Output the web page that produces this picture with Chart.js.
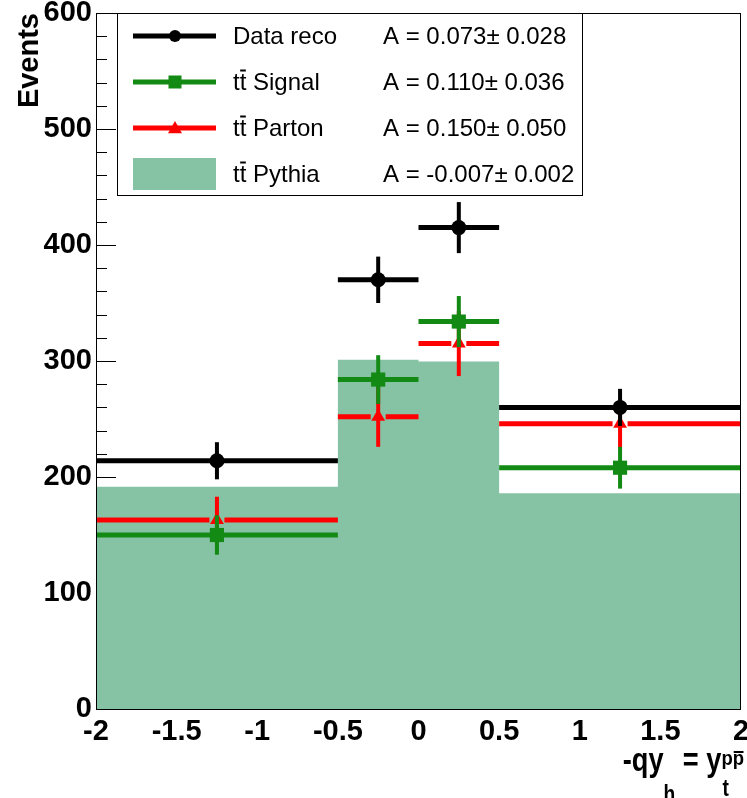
<!DOCTYPE html>
<html>
<head>
<meta charset="utf-8">
<script src="https://cdn.jsdelivr.net/npm/chart.js@4.4.1/dist/chart.umd.min.js"></script>
<style>
html,body{margin:0;padding:0;background:#fff;}
canvas{display:block;}
</style>
</head>
<body>
<canvas id="c" width="747" height="798"></canvas>
<script>
// ---- data ----
const binEdges   = [-2, -0.5, 0, 0.5, 2];
const binCenters = [-1.25, -0.25, 0.25, 1.25];
const dataReco    = [214, 370, 415, 260];
const dataRecoErr = [16, 20, 22, 16];
const signal      = [150, 284, 334, 208];
const signalErr   = [17, 21, 22, 18];
const parton      = [163, 252, 315, 246];
const partonErr   = [20, 26, 28, 21];
const pythia      = [191.5, 301, 299.5, 186];
const legendNames = ["Data reco", "Signal", "Parton", "Pythia"];
const legendTT    = [false, true, true, true];
const asymValues  = ["A = 0.073\u00b1 0.028", "A = 0.110\u00b1 0.036", "A = 0.150\u00b1 0.050", "A = -0.007\u00b1 0.002"];
const xTitle = {main: "-qy", sub1: "h", mid: " = y", sub2: "t", sup: "pp"};
const yTitle = "Events";

const COL_BLACK = '#000000', COL_GREEN = '#138a13', COL_RED = '#ff0000', COL_FILL = '#86c2a4';
const FONT = '"Liberation Sans", Arial, sans-serif';

function pts(vals){ return binCenters.map((c,i)=>({x:c, y:vals[i]})); }
const pythiaPts = [];
pythia.forEach((v,i)=>{ pythiaPts.push({x:binEdges[i], y:v}); pythiaPts.push({x:binEdges[i+1], y:v}); });

const errPlugin = {
  id: 'errbars',
  beforeDatasetDraw(chart, args) {
    const ds = chart.data.datasets[args.index];
    if (!ds.errors) return;
    const ctx = chart.ctx, x = chart.scales.x, y = chart.scales.y;
    ctx.save();
    ctx.strokeStyle = ds.borderColor;
    ctx.lineCap = 'butt';
    ds.data.forEach((p, i) => {
      const xl = x.getPixelForValue(binEdges[i]), xr = x.getPixelForValue(binEdges[i+1]);
      const xc = x.getPixelForValue(p.x), yc = y.getPixelForValue(p.y);
      const yt = y.getPixelForValue(p.y + ds.errors[i]), yb = y.getPixelForValue(p.y - ds.errors[i]);
      ctx.lineWidth = 4;
      ctx.beginPath(); ctx.moveTo(xc, yt); ctx.lineTo(xc, yb); ctx.stroke();
      ctx.lineWidth = 5;
      ctx.beginPath();
      if (ds.gap) {
        ctx.moveTo(xl, yc); ctx.lineTo(xc - ds.gap, yc);
        ctx.moveTo(xc + ds.gap, yc); ctx.lineTo(xr, yc);
      } else {
        ctx.moveTo(xl, yc); ctx.lineTo(xr, yc);
      }
      ctx.stroke();
    });
    ctx.restore();
  }
};

function drawTT(ctx, txt, x, y, tt) {
  if (!tt) { ctx.fillText(txt, x, y); return; }
  const wt = ctx.measureText('t').width, wtt = ctx.measureText('tt').width;
  ctx.fillText('tt', x, y);
  ctx.save();
  ctx.lineWidth = 2; ctx.strokeStyle = '#000';
  ctx.beginPath(); ctx.moveTo(x + wt + 0.5, y - 12.5); ctx.lineTo(x + wtt - 0.5, y - 12.5); ctx.stroke();
  ctx.restore();
  ctx.fillText(' ' + txt, x + wtt, y);
}

function marker(ctx, style, x, y, r, color) {
  ctx.fillStyle = color;
  ctx.beginPath();
  if (style === 'circle') { ctx.arc(x, y, r, 0, Math.PI*2); }
  else if (style === 'rect') { ctx.rect(x - r, y - r, 2*r, 2*r); }
  else { ctx.moveTo(x, y - r); ctx.lineTo(x + r, y + r*0.75); ctx.lineTo(x - r, y + r*0.75); ctx.closePath(); }
  ctx.fill();
}

// draw text with horizontal compression; returns advance width
function condText(ctx, txt, x, y, size, sx) {
  ctx.save();
  ctx.font = 'bold ' + size + 'px ' + FONT;
  ctx.translate(x, y); ctx.scale(sx, 1);
  ctx.fillText(txt, 0, 0);
  const w = ctx.measureText(txt).width * sx;
  ctx.restore();
  return w;
}
function condWidth(ctx, txt, size, sx) {
  ctx.save(); ctx.font = 'bold ' + size + 'px ' + FONT;
  const w = ctx.measureText(txt).width * sx; ctx.restore(); return w;
}

const decoPlugin = {
  id: 'deco',
  beforeDatasetsDraw(chart) {
    const ctx = chart.ctx, a = chart.chartArea, y = chart.scales.y;
    ctx.save();
    ctx.strokeStyle = '#000'; ctx.lineWidth = 1;
    for (let v = 0; v <= 600; v += 20) {
      const py = Math.round(y.getPixelForValue(v)) + 0.5;
      const len = (v % 100 === 0) ? 20 : 11;
      ctx.beginPath(); ctx.moveTo(a.left, py); ctx.lineTo(a.left + len, py); ctx.stroke();
    }
    ctx.restore();
  },
  afterDatasetsDraw(chart) {
    const ctx = chart.ctx, a = chart.chartArea;
    ctx.save();
    // frame
    ctx.strokeStyle = '#000'; ctx.lineWidth = 1;
    ctx.strokeRect(a.left + 0.5, a.top + 0.5, a.right - a.left - 1, a.bottom - a.top);
    // legend
    const L = 117, T = 13, R = 583, B = 196;
    ctx.fillStyle = '#fff'; ctx.fillRect(L, T, R - L, B - T);
    ctx.strokeStyle = '#000'; ctx.lineWidth = 1;
    ctx.strokeRect(L + 0.5, T + 0.5, R - L - 1, B - T - 1);
    const cols = [COL_BLACK, COL_GREEN, COL_RED];
    const styles = ['circle', 'rect', 'triangle'];
    const sizes = [6, 6.5, 7];
    legendNames.forEach((name, i) => {
      const ry = T + 23 + i * 46;
      if (i < 3) {
        ctx.strokeStyle = cols[i]; ctx.lineWidth = 5;
        ctx.beginPath(); ctx.moveTo(133, ry); ctx.lineTo(216, ry); ctx.stroke();
        marker(ctx, styles[i], 175, ry, sizes[i], cols[i]);
      } else {
        ctx.fillStyle = COL_FILL; ctx.fillRect(133, ry - 16, 83, 32);
      }
      ctx.fillStyle = '#000';
      ctx.font = '24px ' + FONT;
      ctx.textBaseline = 'middle'; ctx.textAlign = 'left';
      drawTT(ctx, name, 233, ry + 1, legendTT[i]);
      ctx.fillText(asymValues[i], 383, ry + 1);
    });
    // y title
    ctx.save();
    ctx.fillStyle = '#000';
    ctx.font = 'bold 29px ' + FONT;
    ctx.translate(30, 13); ctx.rotate(-Math.PI / 2);
    ctx.textAlign = 'right'; ctx.textBaseline = 'middle';
    ctx.fillText(yTitle, 0, 0);
    ctx.restore();
    // x title (tall, condensed ROOT-like lettering)
    ctx.fillStyle = '#000'; ctx.textAlign = 'left'; ctx.textBaseline = 'alphabetic';
    const BIG = 34, SUB = 24, SUP = 21, SX = 0.8, SXS = 0.88;
    const w1 = condWidth(ctx, xTitle.main, BIG, SX), w2 = condWidth(ctx, xTitle.sub1, SUB, SX);
    const w3 = condWidth(ctx, xTitle.mid, BIG, SX);
    const w4 = Math.max(condWidth(ctx, xTitle.sup, SUP, SXS), condWidth(ctx, xTitle.sub2, SUB, SX));
    let x0 = 744 - (w1 + w2 + w3 + w4);
    const base = 771;
    x0 += condText(ctx, xTitle.main, x0, base, BIG, SX);
    x0 += condText(ctx, xTitle.sub1, x0, base + 31, SUB, SX);
    x0 += condText(ctx, xTitle.mid, x0, base, BIG, SX);
    condText(ctx, xTitle.sub2, x0 + 1, base + 25, SUB, SX);
    condText(ctx, xTitle.sup, x0, base - 6, SUP, SXS);
    const wp = condWidth(ctx, 'p', SUP, SXS);
    ctx.strokeStyle = '#000'; ctx.lineWidth = 2;
    ctx.beginPath(); ctx.moveTo(x0 + wp + 1, base - 19); ctx.lineTo(x0 + 2*wp - 0.5, base - 19); ctx.stroke();
    ctx.restore();
  }
};

function zeroPad(s) { s.paddingTop = 0; s.paddingBottom = 0; s.paddingLeft = 0; s.paddingRight = 0; }

const chart = new Chart(document.getElementById('c'), {
  type: 'scatter',
  data: {
    datasets: [
      { label: 'Data reco', data: pts(dataReco), errors: dataRecoErr, borderColor: COL_BLACK, backgroundColor: COL_BLACK,
        pointStyle: 'circle', pointRadius: 7.5, pointBorderWidth: 0, showLine: false },
      { label: 'Signal', data: pts(signal), errors: signalErr, borderColor: COL_GREEN, backgroundColor: COL_GREEN,
        pointStyle: 'rect', pointRadius: 10, pointBorderWidth: 0, showLine: false },
      { label: 'Parton', data: pts(parton), errors: partonErr, gap: 7.5, borderColor: COL_RED, backgroundColor: COL_RED,
        pointStyle: 'triangle', pointRadius: 8, pointBorderWidth: 0, showLine: false },
      { label: 'Pythia', data: pythiaPts, showLine: true, fill: 'origin', backgroundColor: COL_FILL, borderColor: COL_FILL,
        borderWidth: 0, pointRadius: 0, tension: 0 }
    ]
  },
  options: {
    responsive: false,
    animation: false,
    devicePixelRatio: 1,
    events: [],
    layout: { autoPadding: false, padding: { left: 0, right: 6, top: 13, bottom: 0 } },
    plugins: { legend: { display: false }, tooltip: { enabled: false } },
    scales: {
      x: {
        type: 'linear', min: -2, max: 2,
        afterFit(s) { s.height = 89; zeroPad(s); },
        grid: { display: false, drawTicks: false },
        border: { display: false },
        ticks: { stepSize: 0.5, padding: 6, color: '#000', maxRotation: 0, autoSkip: false,
                 font: { family: FONT, size: 29, weight: 'bold' },
                 callback: v => String(v) }
      },
      y: {
        min: 0, max: 600,
        afterFit(s) { s.width = 96; zeroPad(s); },
        grid: { display: false, drawTicks: false },
        border: { display: false },
        ticks: { stepSize: 100, padding: 4, color: '#000',
                 font: { family: FONT, size: 29, weight: 'bold' },
                 callback: v => String(v) }
      }
    }
  },
  plugins: [errPlugin, decoPlugin]
});
</script>
</body>
</html>
